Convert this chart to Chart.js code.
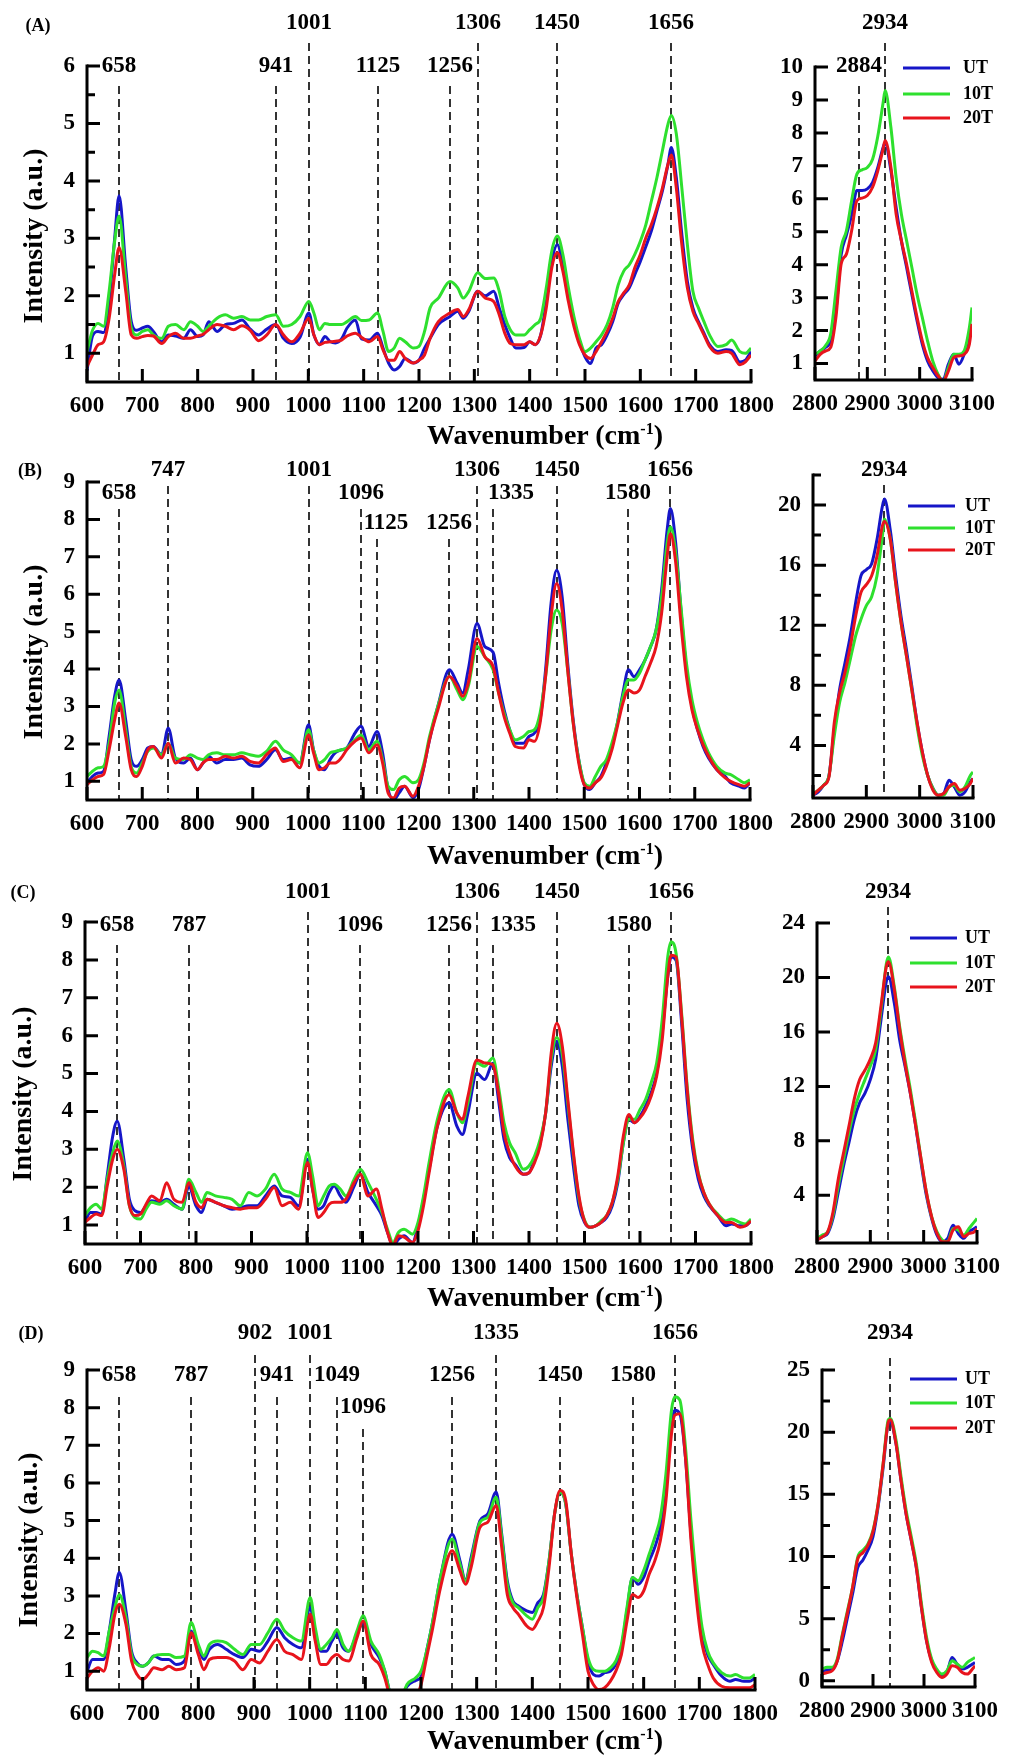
<!DOCTYPE html>
<html>
<head>
<meta charset="utf-8">
<script src="https://cdn.jsdelivr.net/npm/chart.js@4.4.1/dist/chart.umd.min.js"></script>
<style>
  body { margin: 0; background: #fff; }
  #page { position: relative; width: 1014px; height: 1757px; background: #fff; overflow: hidden;
          font-family: "Liberation Serif", "Times New Roman", serif; font-weight: bold; color: #000; }
  #page canvas { position: absolute; }
  .txt { position: absolute; transform: translate(-50%, -50%); white-space: nowrap; }
  .ytitle { font-size: 28px; transform: translate(-50%, -50%) rotate(-90deg); }
  .xtitle { font-size: 28px; }
  .tag { font-size: 18px; }
  .xtitle sup { font-size: 16px; line-height: 0; }
</style>
</head>
<body>
<div id="page"></div>
<script>
// wavenumber grids (cm-1)
const wnFinger = [
  600, 610, 620, 630, 640, 650, 658, 670, 680, 690,
  700, 710, 720, 735, 747, 760, 775, 787, 800, 810,
  820, 835, 850, 865, 880, 895, 910, 925, 941, 955,
  970, 985, 1001, 1010, 1020, 1030, 1040, 1049, 1060, 1070,
  1085, 1096, 1110, 1125, 1135, 1145, 1155, 1165, 1175, 1190,
  1200, 1210, 1220, 1235, 1256, 1270, 1280, 1290, 1306, 1320,
  1335, 1345, 1355, 1365, 1375, 1390, 1400, 1410, 1420, 1430,
  1440, 1450, 1460, 1470, 1480, 1490, 1500, 1510, 1520, 1530,
  1540, 1550, 1560, 1570, 1580, 1590, 1600, 1610, 1620, 1630,
  1640, 1650, 1656, 1665, 1675, 1685, 1695, 1705, 1715, 1725,
  1740, 1755, 1765, 1780, 1790, 1800
];
const wnHigh = [
  2800, 2810, 2820, 2830, 2840, 2850, 2860, 2870, 2880, 2890,
  2900, 2910, 2920, 2930, 2934, 2945, 2955, 2965, 2975, 2985,
  2995, 3005, 3015, 3025, 3035, 3045, 3055, 3065, 3075, 3085,
  3095, 3100
];

const seriesNames = ["UT", "10T", "20T"];
const seriesColors = ["#1616c8", "#2ee02e", "#e8141c"];

const fingerTicks = [600, 700, 800, 900, 1000, 1100, 1200, 1300, 1400, 1500, 1600, 1700, 1800];
const highTicks = [2800, 2900, 3000, 3100];

// (A)
const aFingerUT = [
  0.70, 1.30, 1.38, 1.36, 1.90, 3.00, 3.74, 2.49, 1.55, 1.40,
  1.44, 1.47, 1.38, 1.20, 1.32, 1.30, 1.26, 1.41, 1.29, 1.32,
  1.55, 1.38, 1.50, 1.52, 1.58, 1.42, 1.32, 1.42, 1.50, 1.26,
  1.17, 1.28, 1.70, 1.32, 1.15, 1.29, 1.20, 1.18, 1.25, 1.44,
  1.58, 1.25, 1.23, 1.35, 1.09, 0.83, 0.71, 0.77, 0.91, 0.83,
  0.88, 1.09, 1.26, 1.50, 1.64, 1.73, 1.61, 1.73, 2.08, 2.00,
  2.08, 1.79, 1.50, 1.26, 1.09, 1.10, 1.20, 1.15, 1.32, 1.90,
  2.60, 2.89, 2.54, 2.02, 1.55, 1.20, 0.94, 0.82, 1.09, 1.15,
  1.32, 1.55, 1.87, 2.02, 2.14, 2.37, 2.60, 2.86, 3.13, 3.48,
  3.83, 4.29, 4.58, 4.06, 3.07, 2.25, 1.79, 1.55, 1.35, 1.15,
  1.03, 1.06, 1.05, 0.85, 0.88, 1.03
];
const aFinger10T = [
  1.03, 1.40, 1.52, 1.47, 2.08, 2.95, 3.39, 2.31, 1.44, 1.32,
  1.38, 1.41, 1.32, 1.26, 1.47, 1.50, 1.41, 1.55, 1.47, 1.38,
  1.47, 1.61, 1.67, 1.61, 1.64, 1.58, 1.58, 1.64, 1.67, 1.47,
  1.50, 1.64, 1.90, 1.70, 1.41, 1.52, 1.50, 1.50, 1.50, 1.55,
  1.64, 1.57, 1.58, 1.70, 1.38, 1.03, 1.09, 1.26, 1.20, 1.09,
  1.12, 1.38, 1.79, 1.96, 2.25, 2.14, 1.96, 2.08, 2.40, 2.30,
  2.31, 2.08, 1.64, 1.41, 1.32, 1.32, 1.41, 1.50, 1.61, 2.14,
  2.78, 3.04, 2.72, 2.14, 1.64, 1.26, 1.03, 1.09, 1.20, 1.32,
  1.50, 1.79, 2.19, 2.43, 2.54, 2.72, 2.95, 3.24, 3.65, 4.06,
  4.53, 4.99, 5.14, 4.82, 3.88, 2.89, 2.08, 1.79, 1.55, 1.32,
  1.12, 1.15, 1.23, 1.03, 1.00, 1.09
];
const aFinger20T = [
  0.77, 0.97, 1.15, 1.20, 1.61, 2.37, 2.84, 2.08, 1.32, 1.26,
  1.29, 1.31, 1.30, 1.17, 1.29, 1.35, 1.26, 1.26, 1.30, 1.33,
  1.41, 1.50, 1.47, 1.41, 1.48, 1.40, 1.22, 1.32, 1.50, 1.32,
  1.20, 1.35, 1.61, 1.32, 1.15, 1.19, 1.20, 1.21, 1.23, 1.30,
  1.35, 1.28, 1.20, 1.29, 1.06, 0.88, 0.88, 1.03, 0.91, 0.83,
  0.88, 0.97, 1.26, 1.55, 1.70, 1.76, 1.64, 1.76, 2.08, 1.96,
  1.90, 1.67, 1.35, 1.17, 1.15, 1.15, 1.20, 1.15, 1.32, 1.79,
  2.49, 2.75, 2.43, 1.90, 1.47, 1.15, 0.97, 0.91, 1.03, 1.20,
  1.38, 1.61, 1.90, 2.05, 2.19, 2.49, 2.72, 3.01, 3.24, 3.53,
  3.88, 4.29, 4.45, 3.88, 2.89, 2.14, 1.73, 1.52, 1.32, 1.12,
  1.00, 1.03, 1.00, 0.80, 0.85, 0.97
];
const aHighUT = [
  1.23, 1.38, 1.49, 1.70, 2.60, 4.30, 4.90, 5.50, 6.25, 6.25,
  6.30, 6.50, 6.95, 7.55, 7.70, 6.86, 5.74, 4.73, 3.92, 3.10,
  2.30, 1.59, 1.08, 0.78, 0.57, 0.52, 0.98, 1.28, 0.98, 1.28,
  1.89, 2.20
];
const aHigh10T = [
  1.28, 1.38, 1.54, 1.90, 3.20, 4.53, 5.03, 5.94, 6.75, 6.88,
  6.95, 7.20, 7.90, 8.90, 9.29, 8.17, 6.65, 5.54, 4.73, 3.92,
  3.10, 2.40, 1.69, 1.08, 0.68, 0.47, 0.88, 1.28, 1.28, 1.38,
  2.09, 2.70
];
const aHigh20T = [
  1.08, 1.28, 1.38, 1.49, 2.40, 4.02, 4.32, 5.03, 5.94, 6.02,
  6.10, 6.35, 6.85, 7.50, 7.77, 6.96, 5.54, 4.73, 4.02, 3.21,
  2.40, 1.69, 1.18, 0.88, 0.63, 0.47, 0.78, 1.18, 1.23, 1.28,
  1.59, 2.20
];

// (B)
const bFingerUT = [
  0.96, 1.13, 1.22, 1.27, 2.20, 3.27, 3.71, 2.64, 1.58, 1.40,
  1.58, 1.89, 1.93, 1.71, 2.42, 1.62, 1.49, 1.62, 1.31, 1.49,
  1.67, 1.49, 1.58, 1.58, 1.62, 1.44, 1.40, 1.58, 1.84, 1.58,
  1.62, 1.49, 2.51, 1.84, 1.40, 1.31, 1.58, 1.76, 1.84, 1.89,
  2.29, 2.47, 1.93, 2.33, 1.76, 0.78, 0.51, 0.69, 0.87, 0.56,
  0.78, 1.40, 2.11, 3.00, 3.98, 3.62, 3.36, 3.98, 5.22, 4.60,
  4.45, 3.62, 2.91, 2.38, 2.02, 2.02, 2.20, 2.29, 2.64, 3.98,
  5.76, 6.64, 5.93, 4.16, 2.64, 1.58, 0.91, 0.78, 0.96, 1.13,
  1.49, 1.93, 2.56, 3.36, 3.98, 3.80, 3.98, 4.24, 4.60, 5.04,
  6.11, 7.71, 8.29, 7.44, 5.58, 3.98, 3.00, 2.38, 1.93, 1.62,
  1.31, 1.13, 0.96, 0.87, 0.82, 0.96
];
const bFinger10T = [
  1.13, 1.27, 1.36, 1.40, 2.02, 3.09, 3.44, 2.38, 1.40, 1.22,
  1.49, 1.80, 1.89, 1.71, 2.02, 1.62, 1.58, 1.71, 1.62, 1.58,
  1.71, 1.76, 1.71, 1.71, 1.76, 1.71, 1.67, 1.80, 2.07, 1.84,
  1.71, 1.49, 2.38, 1.84, 1.49, 1.58, 1.76, 1.80, 1.84, 1.89,
  2.11, 2.24, 1.84, 2.07, 1.58, 0.87, 0.78, 1.04, 1.13, 0.96,
  1.04, 1.49, 2.20, 3.00, 3.80, 3.44, 3.18, 3.53, 4.60, 4.33,
  3.98, 3.36, 2.82, 2.38, 2.11, 2.20, 2.33, 2.38, 2.82, 3.80,
  5.04, 5.58, 5.22, 3.98, 2.56, 1.58, 0.96, 0.87, 1.13, 1.40,
  1.58, 2.02, 2.56, 3.27, 3.71, 3.71, 3.89, 4.24, 4.60, 5.04,
  5.93, 7.36, 7.80, 7.18, 5.67, 4.16, 3.18, 2.56, 2.11, 1.76,
  1.40, 1.22, 1.18, 1.04, 0.96, 1.04
];
const bFinger20T = [
  0.91, 1.04, 1.13, 1.18, 1.84, 2.64, 3.09, 2.20, 1.31, 1.13,
  1.40, 1.84, 1.93, 1.62, 2.02, 1.49, 1.62, 1.58, 1.31, 1.49,
  1.58, 1.58, 1.67, 1.62, 1.67, 1.53, 1.49, 1.71, 1.89, 1.53,
  1.58, 1.36, 2.24, 1.76, 1.31, 1.36, 1.49, 1.49, 1.62, 1.84,
  2.07, 2.16, 1.76, 1.98, 1.49, 0.69, 0.56, 0.82, 0.87, 0.60,
  0.87, 1.40, 2.11, 2.91, 3.80, 3.53, 3.27, 3.62, 4.82, 4.33,
  4.07, 3.36, 2.73, 2.29, 1.93, 1.89, 2.11, 2.07, 2.56, 3.80,
  5.40, 6.29, 5.58, 3.98, 2.56, 1.49, 0.91, 0.82, 0.96, 1.09,
  1.40, 1.84, 2.47, 3.09, 3.44, 3.36, 3.44, 3.80, 4.16, 4.60,
  5.49, 7.00, 7.62, 6.91, 5.22, 3.80, 2.91, 2.38, 1.98, 1.67,
  1.31, 1.09, 1.00, 0.91, 0.87, 0.96
];
const bHighUT = [
  0.69, 0.91, 1.35, 2.00, 5.10, 7.75, 9.50, 11.30, 13.50, 15.30,
  15.70, 16.10, 17.70, 19.90, 20.40, 18.30, 15.30, 12.60, 10.40, 8.00,
  5.55, 3.56, 2.00, 1.13, 0.69, 0.80, 1.68, 1.24, 0.69, 0.91,
  1.57, 1.80
];
const bHigh10T = [
  0.80, 1.02, 1.35, 2.00, 4.66, 6.87, 8.20, 9.74, 11.30, 12.40,
  13.30, 13.90, 15.30, 17.90, 19.05, 17.70, 14.80, 12.20, 10.00, 7.75,
  5.32, 3.34, 2.00, 1.13, 0.69, 0.69, 1.24, 1.35, 0.91, 1.24,
  2.00, 2.23
];
const bHigh20T = [
  0.69, 1.02, 1.35, 1.90, 5.55, 7.53, 8.86, 10.60, 12.60, 14.20,
  14.70, 15.30, 16.60, 18.60, 18.90, 17.70, 14.80, 12.20, 10.00, 7.75,
  5.55, 3.56, 2.00, 1.02, 0.69, 0.80, 1.24, 1.46, 1.02, 1.13,
  1.46, 1.80
];

// (C)
const cFingerUT = [
  1.11, 1.33, 1.33, 1.29, 2.30, 3.35, 3.74, 2.74, 1.68, 1.38,
  1.33, 1.51, 1.64, 1.60, 1.68, 1.55, 1.42, 2.02, 1.51, 1.33,
  1.68, 1.60, 1.51, 1.42, 1.46, 1.51, 1.51, 1.77, 2.03, 1.77,
  1.73, 1.51, 2.74, 1.95, 1.42, 1.51, 1.86, 2.03, 1.77, 1.60,
  2.03, 2.34, 1.86, 1.51, 1.25, 0.81, 0.46, 0.63, 0.72, 0.54,
  0.98, 1.68, 2.47, 3.61, 4.23, 3.61, 3.39, 3.96, 5.01, 4.84,
  5.27, 4.31, 3.26, 2.78, 2.60, 2.34, 2.38, 2.74, 3.17, 3.96,
  5.19, 5.85, 5.19, 3.79, 2.56, 1.51, 1.07, 0.94, 0.98, 1.07,
  1.20, 1.51, 2.12, 3.17, 3.79, 3.70, 3.87, 4.14, 4.49, 5.01,
  6.07, 7.56, 8.08, 7.99, 6.33, 4.31, 3.00, 2.21, 1.77, 1.51,
  1.25, 0.98, 1.03, 0.98, 0.98, 1.11
];
const cFinger10T = [
  1.25, 1.46, 1.55, 1.42, 2.21, 2.91, 3.22, 2.56, 1.51, 1.20,
  1.16, 1.42, 1.60, 1.55, 1.64, 1.51, 1.42, 2.21, 1.86, 1.60,
  1.86, 1.77, 1.73, 1.68, 1.51, 1.86, 1.77, 1.95, 2.34, 1.95,
  1.86, 1.77, 2.91, 2.30, 1.51, 1.77, 2.03, 2.08, 1.95, 1.77,
  2.21, 2.47, 2.12, 1.68, 1.33, 0.89, 0.54, 0.81, 0.89, 0.76,
  1.07, 1.77, 2.65, 3.79, 4.58, 3.96, 3.70, 4.23, 5.28, 5.19,
  5.41, 4.66, 3.70, 3.17, 2.91, 2.47, 2.56, 2.82, 3.26, 3.96,
  5.36, 5.95, 5.50, 4.20, 2.85, 1.70, 1.13, 0.94, 0.98, 1.11,
  1.25, 1.60, 2.21, 3.17, 3.79, 3.79, 4.05, 4.31, 4.75, 5.28,
  6.42, 8.08, 8.48, 8.17, 6.59, 4.66, 3.26, 2.38, 1.86, 1.55,
  1.29, 1.11, 1.16, 1.07, 1.03, 1.16
];
const cFinger20T = [
  1.07, 1.20, 1.29, 1.25, 2.03, 2.74, 3.00, 2.47, 1.51, 1.25,
  1.29, 1.55, 1.77, 1.64, 2.12, 1.68, 1.60, 2.12, 1.60, 1.46,
  1.68, 1.60, 1.51, 1.46, 1.42, 1.46, 1.46, 1.68, 1.99, 1.51,
  1.60, 1.42, 2.65, 1.95, 1.20, 1.33, 1.55, 1.60, 1.60, 1.68,
  2.12, 2.34, 1.77, 1.95, 1.42, 0.81, 0.46, 0.72, 0.68, 0.54,
  0.85, 1.51, 2.38, 3.61, 4.44, 3.96, 3.79, 4.40, 5.36, 5.28,
  5.23, 4.49, 3.44, 2.91, 2.56, 2.34, 2.38, 2.65, 3.09, 3.96,
  5.54, 6.33, 5.72, 4.31, 2.91, 1.77, 1.11, 0.94, 0.98, 1.07,
  1.25, 1.60, 2.30, 3.35, 3.92, 3.70, 3.83, 4.05, 4.40, 4.93,
  5.89, 7.56, 8.12, 8.08, 6.50, 4.58, 3.17, 2.34, 1.86, 1.55,
  1.25, 1.07, 1.07, 0.94, 0.98, 1.11
];
const cHighUT = [
  0.72, 0.96, 1.20, 2.30, 4.24, 6.19, 7.89, 9.60, 10.80, 11.50,
  12.50, 14.00, 16.90, 19.70, 20.05, 18.10, 15.40, 13.50, 11.50, 9.10,
  6.43, 4.00, 2.30, 1.08, 0.60, 0.84, 1.81, 1.20, 0.84, 1.32,
  1.57, 1.70
];
const cHigh10T = [
  0.84, 1.08, 1.32, 2.54, 4.73, 6.68, 8.62, 10.30, 11.50, 12.50,
  13.50, 14.70, 17.60, 21.00, 21.50, 19.30, 16.40, 14.00, 11.80, 9.35,
  6.68, 4.24, 2.42, 1.32, 0.72, 0.60, 1.57, 1.45, 1.08, 1.57,
  2.05, 2.30
];
const cHigh20T = [
  0.72, 0.96, 1.32, 2.78, 5.22, 7.16, 9.10, 11.10, 12.50, 13.20,
  14.00, 15.20, 17.90, 20.80, 21.15, 19.10, 16.20, 13.70, 11.50, 9.10,
  6.68, 4.24, 2.42, 1.20, 0.60, 0.60, 1.45, 1.69, 0.96, 1.20,
  1.32, 1.57
];

// (D)
const dFingerUT = [
  1.00, 1.31, 1.31, 1.31, 2.07, 3.04, 3.62, 2.60, 1.53, 1.22,
  1.13, 1.22, 1.40, 1.31, 1.31, 1.18, 1.27, 2.07, 1.62, 1.31,
  1.58, 1.71, 1.58, 1.44, 1.36, 1.58, 1.53, 1.80, 2.16, 1.89,
  1.71, 1.62, 2.69, 1.98, 1.53, 1.53, 1.80, 1.98, 1.62, 1.53,
  1.98, 2.29, 1.71, 1.36, 1.00, 0.38, 0.20, 0.30, 0.60, 0.75,
  0.85, 1.53, 2.24, 3.49, 4.64, 3.93, 3.40, 4.02, 5.00, 5.18,
  5.76, 4.64, 3.40, 2.87, 2.73, 2.60, 2.56, 2.82, 3.04, 3.93,
  5.18, 5.76, 5.44, 4.11, 3.04, 2.16, 1.27, 0.91, 0.87, 0.96,
  1.00, 1.18, 1.62, 2.60, 3.49, 3.31, 3.49, 3.93, 4.29, 4.82,
  5.89, 7.49, 7.93, 7.84, 6.69, 4.64, 3.13, 1.98, 1.44, 1.18,
  0.87, 0.73, 0.78, 0.73, 0.73, 0.82
];
const dFinger10T = [
  1.36, 1.53, 1.49, 1.40, 2.07, 2.69, 3.04, 2.42, 1.44, 1.18,
  1.13, 1.22, 1.40, 1.44, 1.44, 1.36, 1.40, 2.29, 1.71, 1.40,
  1.71, 1.80, 1.76, 1.58, 1.44, 1.71, 1.71, 2.02, 2.38, 2.07,
  1.89, 1.80, 2.96, 2.16, 1.58, 1.71, 1.89, 2.11, 1.71, 1.53,
  2.07, 2.47, 1.80, 1.44, 1.00, 0.38, 0.20, 0.30, 0.65, 0.82,
  1.00, 1.53, 2.24, 3.49, 4.51, 3.84, 3.40, 3.93, 4.96, 5.09,
  5.62, 4.56, 3.31, 2.82, 2.69, 2.47, 2.38, 2.69, 2.96, 3.93,
  5.18, 5.76, 5.44, 4.11, 3.04, 2.16, 1.36, 1.04, 1.00, 1.00,
  1.09, 1.27, 1.71, 2.69, 3.49, 3.40, 3.67, 4.11, 4.56, 5.09,
  6.24, 7.93, 8.29, 8.20, 6.96, 5.00, 3.40, 2.16, 1.53, 1.22,
  0.96, 0.87, 0.91, 0.82, 0.82, 0.91
];
const dFinger20T = [
  0.82, 1.00, 1.09, 1.00, 1.62, 2.51, 2.78, 2.24, 1.27, 0.91,
  0.78, 0.91, 1.09, 1.04, 1.13, 1.04, 1.09, 2.02, 1.44, 1.04,
  1.31, 1.36, 1.36, 1.27, 1.04, 1.31, 1.22, 1.53, 1.84, 1.53,
  1.44, 1.31, 2.51, 1.80, 1.18, 1.18, 1.36, 1.44, 1.31, 1.27,
  1.89, 2.33, 1.44, 1.18, 0.82, 0.29, 0.10, 0.10, 0.20, 0.30,
  0.64, 1.36, 2.07, 3.22, 4.20, 3.67, 3.31, 3.76, 4.82, 4.96,
  5.40, 4.29, 3.04, 2.69, 2.51, 2.20, 2.11, 2.33, 2.69, 3.76,
  5.18, 5.80, 5.53, 4.11, 2.96, 1.98, 1.00, 0.64, 0.51, 0.56,
  0.73, 1.00, 1.44, 2.33, 3.04, 2.96, 3.13, 3.58, 3.93, 4.47,
  5.53, 7.31, 7.80, 7.84, 6.69, 4.47, 2.87, 1.71, 1.18, 0.82,
  0.60, 0.56, 0.56, 0.56, 0.56, 0.64
];
const dHighUT = [
  0.81, 0.86, 0.94, 1.61, 3.20, 5.10, 7.00, 9.10, 9.70, 10.50,
  11.60, 14.00, 17.20, 20.70, 20.80, 19.10, 16.10, 13.40, 11.30, 9.10,
  5.90, 3.20, 1.61, 0.81, 0.40, 0.67, 1.88, 1.34, 0.94, 1.08,
  1.34, 1.48
];
const dHigh10T = [
  0.94, 1.08, 1.08, 1.75, 3.76, 5.65, 7.53, 9.95, 10.50, 11.00,
  12.10, 14.20, 17.50, 21.00, 21.10, 19.40, 16.40, 13.70, 11.60, 9.40,
  6.20, 3.50, 1.75, 0.94, 0.54, 0.81, 1.61, 1.34, 1.08, 1.48,
  1.75, 1.88
];
const dHigh20T = [
  0.54, 0.67, 0.81, 1.61, 3.63, 5.50, 7.53, 9.80, 10.30, 10.90,
  12.00, 14.20, 17.50, 20.80, 21.00, 19.10, 16.10, 13.40, 11.30, 9.10,
  5.90, 3.20, 1.48, 0.67, 0.27, 0.54, 1.21, 1.08, 0.67, 0.54,
  0.94, 1.21
];

// band assignments: [wavenumber, label row, label shift]
const aPeaks = [[1001, 0], [1306, 0], [1450, 0], [1656, 0], [658, 1], [941, 1], [1125, 1], [1256, 1]];
const aHighPeaks = [[2934, 0], [2884, 1]];
const bPeaks = [[747, 0], [1001, 0], [1306, 0], [1450, 0], [1656, 0], [658, 1], [1096, 1], [1335, 1, 18],
                [1580, 1], [1125, 2, 9], [1256, 2]];
const cPeaks = [[1001, 0], [1306, 0], [1450, 0], [1656, 0], [658, 1], [787, 1], [1096, 1], [1256, 1],
                [1335, 1, 20], [1580, 1]];
const dPeaks = [[902, 0], [1001, 0], [1335, 0], [1656, 0], [658, 1], [787, 1], [941, 1], [1049, 1],
                [1256, 1], [1450, 1], [1580, 1], [1096, 2]];
const highPeak = [[2934, 0]];

const FONT = "'Liberation Serif', 'Times New Roman', serif";
Chart.defaults.font.family = FONT;
Chart.defaults.font.weight = "bold";
Chart.defaults.font.size = 23;
Chart.defaults.color = "#000";

const page = document.getElementById("page");

function text(cls, html, x, y) {
  const d = document.createElement("div");
  d.className = "txt " + cls;
  d.innerHTML = html;
  d.style.left = x + "px";
  d.style.top = y + "px";
  page.appendChild(d);
}

// axes, inward ticks, band markers and legend
function overlay(p) {
  return {
    id: "overlay",
    beforeDatasetsDraw(chart) {
      const { ctx, chartArea: a, scales: { x } } = chart;
      ctx.save();
      ctx.font = "bold 23px " + FONT;
      ctx.textAlign = "center";
      ctx.textBaseline = "middle";
      for (const [wn, row, dx = 0] of p.peaks) {
        const px = Math.round(x.getPixelForValue(wn));
        const ly = a.top + p.rows[row];
        ctx.fillStyle = "#000";
        ctx.fillText(String(wn), px + dx, ly);
        ctx.strokeStyle = "#333";
        ctx.lineWidth = 2;
        ctx.setLineDash([8, 5]);
        ctx.beginPath();
        ctx.moveTo(px, ly + p.gap);
        ctx.lineTo(px, a.bottom);
        ctx.stroke();
      }
      ctx.restore();
    },
    afterDatasetsDraw(chart) {
      const { ctx, chartArea: a, scales: { x, y } } = chart;
      ctx.save();
      ctx.strokeStyle = "#000";
      ctx.lineWidth = 3;
      ctx.lineCap = "square";
      ctx.beginPath();
      ctx.moveTo(a.left, a.top);
      ctx.lineTo(a.left, a.bottom);
      ctx.lineTo(a.right, a.bottom);
      ctx.stroke();
      ctx.lineCap = "butt";
      ctx.beginPath();
      for (const t of x.ticks) {
        const px = x.getPixelForValue(t.value);
        ctx.moveTo(px, a.bottom);
        ctx.lineTo(px, a.bottom - 13);
      }
      for (const t of y.ticks) {
        const py = y.getPixelForValue(t.value);
        ctx.moveTo(a.left, py);
        ctx.lineTo(a.left + 13, py);
      }
      for (const v of p.yMinor || []) {
        const py = y.getPixelForValue(v);
        ctx.moveTo(a.left, py);
        ctx.lineTo(a.left + 8, py);
      }
      ctx.stroke();

      if (p.legend) {
        const [x0, x1, tx, ys] = p.legend;
        ctx.font = "bold 18px " + FONT;
        ctx.textAlign = "left";
        ctx.textBaseline = "middle";
        seriesNames.forEach((name, i) => {
          const ly = a.top + ys[i];
          ctx.strokeStyle = seriesColors[i];
          ctx.beginPath();
          ctx.moveTo(a.left + x0, ly);
          ctx.lineTo(a.left + x1, ly);
          ctx.stroke();
          ctx.fillStyle = "#000";
          ctx.fillText(name, a.left + tx, ly);
        });
      }
      ctx.restore();
    }
  };
}

function addChart(p, wn, xMin, xMax, xTicks) {
  const [l, t, r, b] = p.area;
  const padR = p.legend ? 45 : 30;
  const canvas = document.createElement("canvas");
  canvas.width = r - l + 60 + padR;
  canvas.height = b - t + 115;
  canvas.style.left = (l - 60) + "px";
  canvas.style.top = (t - 70) + "px";
  page.appendChild(canvas);

  const datasets = p.series.map((ys, i) => ({
    label: seriesNames[i],
    data: ys.map((v, k) => ({ x: wn[k], y: v })),
    borderColor: seriesColors[i],
    borderWidth: 3,
    pointRadius: 0,
    cubicInterpolationMode: "monotone",
    order: 3 - i
  }));

  new Chart(canvas, {
    type: "line",
    data: { datasets },
    options: {
      responsive: false,
      animation: false,
      events: [],
      layout: { autoPadding: false, padding: { left: 10, top: 70, right: padR, bottom: 5 } },
      plugins: { legend: { display: false }, tooltip: { enabled: false } },
      scales: {
        x: {
          type: "linear", min: xMin, max: xMax,
          grid: { display: false, drawTicks: false }, border: { display: false },
          ticks: { padding: 10, maxRotation: 0, autoSkip: false, callback: v => String(v) },
          afterBuildTicks: s => { s.ticks = xTicks.map(v => ({ value: v })); },
          afterFit: s => { s.height = 40; }
        },
        y: {
          type: "linear", min: p.yMin, max: p.yMax,
          grid: { display: false, drawTicks: false }, border: { display: false },
          ticks: { padding: 12, autoSkip: false, callback: v => String(v) },
          afterBuildTicks: s => { s.ticks = p.yTicks.map(v => ({ value: v })); },
          afterFit: s => { s.width = 50; }
        }
      }
    },
    plugins: [overlay(p)]
  });
}

const figure = [
  {
    tag: ["(A)", 38, 25], ytitle: [33, 236], xtitle: [545, 435],
    finger: { area: [87, 66, 754, 382], yMin: 0.5, yMax: 6, yTicks: [1, 2, 3, 4, 5, 6],
              yMinor: [1.5, 2.5, 3.5, 4.5, 5.5], series: [aFingerUT, aFinger10T, aFinger20T],
              peaks: aPeaks, rows: [-43, 0], gap: 20 },
    high: { area: [815, 67, 972, 380], yMin: 0.5, yMax: 10, yTicks: [1, 2, 3, 4, 5, 6, 7, 8, 9, 10],
            series: [aHighUT, aHigh10T, aHigh20T], peaks: aHighPeaks, rows: [-44, -1], gap: 20,
            legend: [88, 135, 148, [1, 27, 51]] }
  },
  {
    tag: ["(B)", 30, 470], ytitle: [33, 652], xtitle: [545, 855],
    finger: { area: [87, 482, 753, 800], yMin: 0.5, yMax: 9, yTicks: [1, 2, 3, 4, 5, 6, 7, 8, 9],
              series: [bFingerUT, bFinger10T, bFinger20T], peaks: bPeaks, rows: [-12, 11, 41], gap: 16 },
    high: { area: [813, 475, 973, 798], yMin: 0.5, yMax: 22, yTicks: [4, 8, 12, 16, 20],
            yMinor: [2, 6, 10, 14, 18, 22], series: [bHighUT, bHigh10T, bHigh20T],
            peaks: highPeak, rows: [-5], gap: 15, legend: [95, 142, 152, [31, 53, 75]] }
  },
  {
    tag: ["(C)", 23, 892], ytitle: [22, 1094], xtitle: [545, 1297],
    finger: { area: [85, 922, 754, 1244], yMin: 0.5, yMax: 9, yTicks: [1, 2, 3, 4, 5, 6, 7, 8, 9],
              series: [cFingerUT, cFinger10T, cFinger20T], peaks: cPeaks, rows: [-30, 3], gap: 20 },
    high: { area: [817, 923, 977, 1243], yMin: 0.5, yMax: 24, yTicks: [4, 8, 12, 16, 20, 24],
            series: [cHighUT, cHigh10T, cHigh20T], peaks: highPeak, rows: [-31], gap: 15,
            legend: [93, 140, 148, [15, 40, 64]] }
  },
  {
    tag: ["(D)", 31, 1333], ytitle: [28, 1540], xtitle: [545, 1740],
    finger: { area: [87, 1370, 758, 1690], yMin: 0.5, yMax: 9, yTicks: [1, 2, 3, 4, 5, 6, 7, 8, 9],
              series: [dFingerUT, dFinger10T, dFinger20T], peaks: dPeaks, rows: [-37, 5, 37], gap: 22 },
    high: { area: [822, 1370, 975, 1687], yMin: -0.5, yMax: 25, yTicks: [0, 5, 10, 15, 20, 25],
            yMinor: [2.5, 7.5, 12.5, 17.5, 22.5], series: [dHighUT, dHigh10T, dHigh20T],
            peaks: highPeak, rows: [-37], gap: 25, legend: [88, 135, 143, [9, 33, 58]] }
  }
];

for (const f of figure) {
  addChart(f.finger, wnFinger, 600, 1800, fingerTicks);
  addChart(f.high, wnHigh, 2800, 3100, highTicks);
  text("tag", f.tag[0], f.tag[1], f.tag[2]);
  text("ytitle", "Intensity (a.u.)", f.ytitle[0], f.ytitle[1]);
  text("xtitle", "Wavenumber (cm<sup>-1</sup>)", f.xtitle[0], f.xtitle[1]);
}
</script>
</body>
</html>
